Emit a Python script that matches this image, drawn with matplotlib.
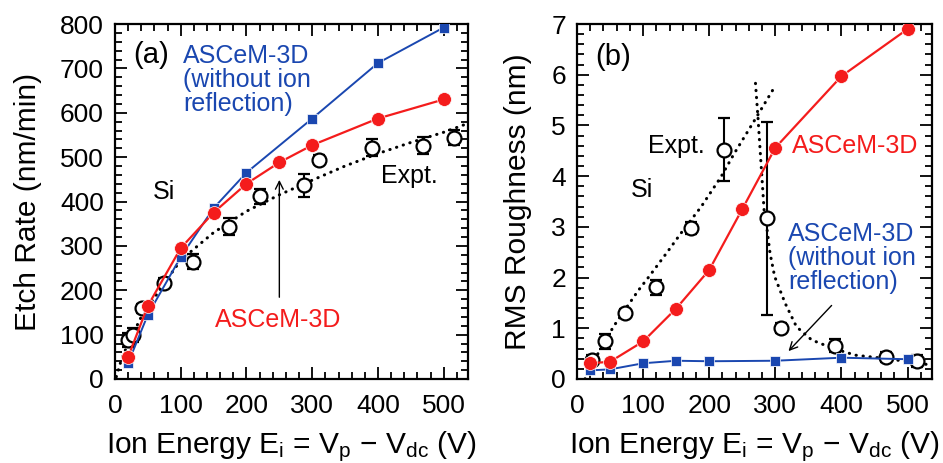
import numpy as np
import matplotlib
matplotlib.use("Agg")
import matplotlib.pyplot as plt
from matplotlib.ticker import MultipleLocator

plt.rcParams['font.family'] = ['Liberation Sans', 'DejaVu Sans']
plt.rcParams['mathtext.default'] = 'regular'

WIDTH, HEIGHT, DPI = 943, 463, 100
RED = '#f41c1c'
BLUE = '#1a47b0'

# (a) etch rate vs ion energy
sim_x = [20, 50, 100, 150, 200, 250, 300, 400, 500]
etch_sim = [50, 165, 295, 375, 440, 488, 527, 587, 630]
noref_x = [20, 50, 100, 150, 200, 300, 400, 500]
etch_noref = [36, 145, 275, 385, 465, 587, 712, 792]
expt_a_x = [20, 27, 41, 74, 119, 173, 221, 287, 310, 391, 469, 516]
expt_a_y = [88, 99, 159, 217, 264, 343, 412, 437, 494, 521, 526, 544]
expt_a_err = [15, 15, 10, 10, 17, 19, 17, 26, 10, 19, 19, 17]
fit_a_x = [2, 10, 20, 40, 70, 100, 150, 200, 250, 300, 350, 400, 450, 500, 535]
fit_a_y = [5, 45, 80, 140, 205, 268, 330, 378, 415, 448, 480, 508, 533, 556, 575]

# (b) RMS roughness vs ion energy
rough_sim = [0.31, 0.34, 0.74, 1.39, 2.15, 3.35, 4.56, 5.97, 6.90]
rough_noref = [0.17, 0.19, 0.31, 0.36, 0.35, 0.36, 0.42, 0.39]
expt_b_x = [22, 43, 73, 120, 172, 223, 288, 309, 391, 468, 515]
expt_b_y = [0.37, 0.74, 1.30, 1.81, 2.98, 4.52, 3.17, 1.00, 0.66, 0.44, 0.35]
expt_b_err = [0.10, 0.15, 0.08, 0.15, 0.12, 0.62, 1.90, 0.10, 0.12, 0.10, 0.12]
rise_x = [12, 25, 43, 55, 76, 93, 109, 137, 157, 188, 218, 238, 269, 299]
rise_y = [0.0, 0.35, 0.75, 1.03, 1.43, 1.75, 2.02, 2.51, 2.87, 3.40, 3.99, 4.45, 5.11, 5.76]
fall_x = [270, 274, 279, 283, 287, 292, 299, 315, 332, 355, 386, 421, 462, 503, 533]
fall_y = [5.83, 5.11, 4.12, 3.33, 3.0, 2.48, 2.02, 1.49, 1.03, 0.77, 0.61, 0.47, 0.41, 0.34, 0.28]

xlabel = r'Ion Energy E$_{i}$ = V$_{p}$ $-$ V$_{dc}$ (V)'

fig = plt.figure(figsize=(WIDTH/DPI, HEIGHT/DPI), dpi=DPI)
ax_a = fig.add_axes([115/WIDTH, 84/HEIGHT, 353/WIDTH, 355/HEIGHT])
ax_b = fig.add_axes([577/WIDTH, 84/HEIGHT, 355/WIDTH, 355/HEIGHT])


def style_axes(ax, ymajor, yminor):
    ax.set_xlim(0, 537)
    ax.xaxis.set_major_locator(MultipleLocator(100))
    ax.xaxis.set_minor_locator(MultipleLocator(20))
    ax.yaxis.set_major_locator(MultipleLocator(ymajor))
    ax.yaxis.set_minor_locator(MultipleLocator(yminor))
    ax.tick_params(which='both', direction='in', top=True, right=True,
                   width=1.3, labelsize=19)
    ax.tick_params(which='major', length=8.5)
    ax.tick_params(which='minor', length=5)
    ax.tick_params(axis='x', pad=11)
    ax.tick_params(axis='y', pad=8)
    for sp in ax.spines.values():
        sp.set_linewidth(1.6)
    ax.set_xlabel(xlabel, fontsize=21.5, labelpad=8)


def expt(ax, x, y, err):
    ax.errorbar(x, y, yerr=err, fmt='o', ms=10, mfc='white', mec='k', mew=1.6,
                ecolor='k', elinewidth=1.5, capsize=4.3, capthick=1.5, zorder=2)


dot = dict(color='k', lw=2.2, linestyle=(0, (0.1, 2.2)), dash_capstyle='round', zorder=1)

# panel (a)
ax_a.plot(fit_a_x, fit_a_y, **dot)
expt(ax_a, expt_a_x, expt_a_y, expt_a_err)
ax_a.plot(noref_x, etch_noref, '-s', color=BLUE, lw=1.4, ms=7.5, mec='white', mew=0.5, zorder=3)
ax_a.plot(sim_x, etch_sim, '-o', color=RED, lw=1.6, ms=10, mec='white', mew=0.5, zorder=4)
style_axes(ax_a, 100, 20)
ax_a.set_ylim(0, 800)
ax_a.set_ylabel('Etch Rate (nm/min)', fontsize=21.5, labelpad=13)

ax_a.text(28, 730, '(a)', fontsize=21, va='center')
ax_a.text(104, 674, 'ASCeM-3D\n(without ion\nreflection)', color=BLUE, fontsize=18,
          va='center', linespacing=1.0)
ax_a.text(58, 421, 'Si', fontsize=18, va='center')
ax_a.text(404, 457, 'Expt.', fontsize=18, va='center')
ax_a.text(152, 133, 'ASCeM-3D', color=RED, fontsize=18, va='center')
ax_a.annotate('', xy=(250, 455), xytext=(250, 178),
              arrowprops=dict(arrowstyle='->', color='k', lw=1.0, mutation_scale=14))

# panel (b)
ax_b.plot(rise_x, rise_y, **dot)
ax_b.plot(fall_x, fall_y, **dot)
expt(ax_b, expt_b_x, expt_b_y, expt_b_err)
ax_b.plot(noref_x, rough_noref, '-s', color=BLUE, lw=1.4, ms=7.5, mec='white', mew=0.5, zorder=3)
ax_b.plot(sim_x, rough_sim, '-o', color=RED, lw=1.6, ms=10, mec='white', mew=0.5, zorder=4)
style_axes(ax_b, 1, 0.2)
ax_b.set_ylim(0, 7)
ax_b.set_ylabel('RMS Roughness (nm)', fontsize=21.5, labelpad=14)

ax_b.text(28, 6.35, '(b)', fontsize=21, va='center')
ax_b.text(108, 4.6, 'Expt.', fontsize=18, va='center')
ax_b.text(81, 3.73, 'Si', fontsize=18, va='center')
ax_b.text(325, 4.6, 'ASCeM-3D', color=RED, fontsize=18, va='center')
ax_b.text(319, 2.38, 'ASCeM-3D\n(without ion\nreflection)', color=BLUE, fontsize=18,
          va='center', linespacing=1.0)
ax_b.annotate('', xy=(317, 0.51), xytext=(388, 1.49),
              arrowprops=dict(arrowstyle='->', color='k', lw=1.0, mutation_scale=14))

fig.savefig('out.png', dpi=DPI)
